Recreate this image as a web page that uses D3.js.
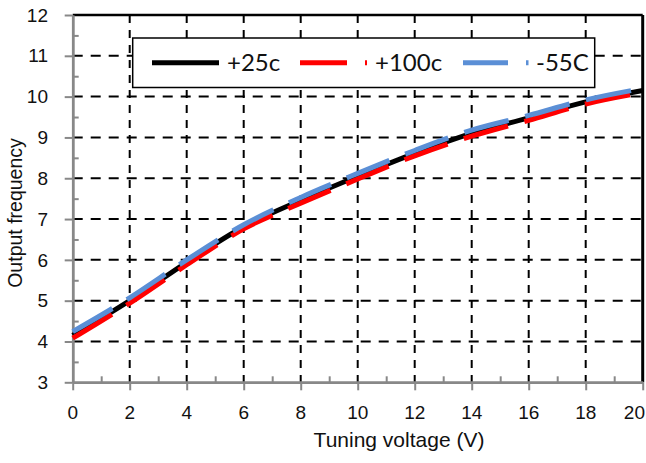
<!DOCTYPE html>
<html>
<head>
<meta charset="utf-8">
<script src="https://cdn.jsdelivr.net/npm/d3@7"></script>
<style>
body { margin: 0; background: #fff; }
svg { display: block; }
.tick-label { font-family: "Liberation Sans", Arial, sans-serif; font-size: 19px; fill: #111; }
.axis-title { font-family: "Liberation Sans", Arial, sans-serif; font-size: 20px; fill: #111; }
.legend-text { font-family: Lato, "Open Sans", sans-serif; font-size: 24px; fill: #111; }
</style>
</head>
<body>
<svg width="646" height="463"></svg>
<script>
// **** chart values ****
var voltage = [0, 2, 4, 6, 8, 10, 12, 14, 16, 18, 20];
var freq25 = [4.15, 5.0, 5.94, 6.81, 7.46, 8.05, 8.61, 9.1, 9.48, 9.87, 10.15];
var freq100 = [4.08, 4.94, 5.88, 6.76, 7.39, 7.98, 8.55, 9.03, 9.42, 9.82, 10.1];
var freqM55 = [4.24, 5.07, 6.0, 6.86, 7.53, 8.12, 8.68, 9.18, 9.54, 9.92, 10.2];

var seriesNames = ['+25c', '+100c', '-55C'];
var seriesColors = ['#000000', '#ff0000', '#5b8fd6'];

var xTicks = [0, 2, 4, 6, 8, 10, 12, 14, 16, 18, 20];
var yTicks = [3, 4, 5, 6, 7, 8, 9, 10, 11, 12];

// **** scales ****
var xScale = d3.scaleLinear().domain([0, 20]).range([72.7, 642.7]);
var yScale = d3.scaleLinear().domain([3, 12]).range([382.3, 15]);

var svg = d3.select('svg');

// gridlines
svg.append('g').selectAll('line')
    .data(yTicks.filter(function(d){ return d > 3 && d < 12; }))
    .enter().append('line')
    .attr('x1', xScale(0)).attr('x2', xScale(20))
    .attr('y1', function(d){ return yScale(d); })
    .attr('y2', function(d){ return yScale(d); })
    .attr('stroke', '#000').attr('stroke-width', 2)
    .attr('stroke-dasharray', '10,8');

svg.append('g').selectAll('line')
    .data(xTicks.filter(function(d){ return d > 0 && d < 20; }))
    .enter().append('line')
    .attr('x1', function(d){ return xScale(d); })
    .attr('x2', function(d){ return xScale(d); })
    .attr('y1', yScale(12)).attr('y2', yScale(3))
    .attr('stroke', '#000').attr('stroke-width', 2)
    .attr('stroke-dasharray', '8,7');

// top + right border
svg.append('line')
    .attr('x1', xScale(0)).attr('x2', xScale(20))
    .attr('y1', yScale(12)).attr('y2', yScale(12))
    .attr('stroke', '#000').attr('stroke-width', 2.5);
svg.append('line')
    .attr('x1', xScale(20)).attr('x2', xScale(20))
    .attr('y1', yScale(12)).attr('y2', yScale(3))
    .attr('stroke', '#000').attr('stroke-width', 3);

// axes (grey, major ticks outside, minor ticks inside)
var axisColor = '#888';
var yAxis = svg.append('g').attr('transform', 'translate(' + xScale(0) + ',0)')
    .call(d3.axisLeft(yScale).tickValues(yTicks).tickSize(8).tickSizeOuter(0).tickFormat(''));
var yMinor = svg.append('g').attr('transform', 'translate(' + xScale(0) + ',0)')
    .call(d3.axisRight(yScale).tickValues(d3.range(3.5, 12, 1)).tickSize(6).tickSizeOuter(0).tickFormat(''));
var xAxis = svg.append('g').attr('transform', 'translate(0,' + yScale(3) + ')')
    .call(d3.axisBottom(xScale).tickValues(xTicks).tickSize(8).tickSizeOuter(0).tickFormat(''));
var xMinor = svg.append('g').attr('transform', 'translate(0,' + yScale(3) + ')')
    .call(d3.axisTop(xScale).tickValues(d3.range(1, 20, 2)).tickSize(6).tickSizeOuter(0).tickFormat(''));
[yAxis, yMinor, xAxis, xMinor].forEach(function(g){
    g.select('.domain').attr('stroke', axisColor).attr('stroke-width', 2.5);
    g.selectAll('.tick line').attr('stroke', axisColor).attr('stroke-width', 2);
});

// tick labels
svg.append('g').selectAll('text')
    .data(yTicks).enter().append('text')
    .attr('class', 'tick-label')
    .attr('x', 48).attr('y', function(d){ return yScale(d); })
    .attr('dy', '0.35em').attr('text-anchor', 'end')
    .text(function(d){ return d; });
svg.append('g').selectAll('text')
    .data(xTicks).enter().append('text')
    .attr('class', 'tick-label')
    .attr('x', function(d){ return d === 20 ? 645 : xScale(d); }).attr('y', 412)
    .attr('dy', '0.35em')
    .attr('text-anchor', function(d){ return d === 20 ? 'end' : 'middle'; })
    .text(function(d){ return d; });

// axis titles
svg.append('text').attr('class', 'axis-title')
    .attr('transform', 'translate(399,447)')
    .attr('text-anchor', 'middle')
    .style('font-size', '21px')
    .text('Tuning voltage (V)');
svg.append('text').attr('class', 'axis-title')
    .attr('transform', 'translate(22,213) rotate(-90)')
    .attr('text-anchor', 'middle')
    .style('font-size', '19.5px')
    .text('Output frequency');

// **** series ****
var line = d3.line()
    .x(function(d){ return xScale(d[0]); })
    .y(function(d){ return yScale(d[1]); })
    .curve(d3.curveMonotoneX);

var allSeries = [freq25, freq100, freqM55];
allSeries.forEach(function(vals, i){
    var pts = voltage.map(function(v, j){ return [v, vals[j]]; });
    svg.append('path')
        .datum(pts)
        .attr('d', line)
        .attr('fill', 'none')
        .attr('stroke', seriesColors[i])
        .attr('stroke-width', 5)
        .attr('stroke-dasharray', i === 0 ? null : '46,17');
});

// **** legend ****
var legend = svg.append('g');
legend.append('rect')
    .attr('x', 132.7).attr('y', 38).attr('width', 462).attr('height', 49.5)
    .attr('fill', '#fff').attr('stroke', '#000').attr('stroke-width', 1.5);

var legendX = [152, 300, 463];
seriesNames.forEach(function(name, i){
    legend.append('line')
        .attr('x1', legendX[i]).attr('x2', legendX[i] + 67)
        .attr('y1', 62.7).attr('y2', 62.7)
        .attr('stroke', seriesColors[i]).attr('stroke-width', 5)
        .attr('stroke-dasharray', i === 0 ? null : (i === 1 ? '47,18,2.5,40' : '45,18,2.5,40'));
    legend.append('text')
        .attr('class', 'legend-text')
        .attr('x', [227, 375, 536][i]).attr('y', 62.7)
        .attr('dy', '0.35em')
        .text(name);
});
</script>
</body>
</html>
